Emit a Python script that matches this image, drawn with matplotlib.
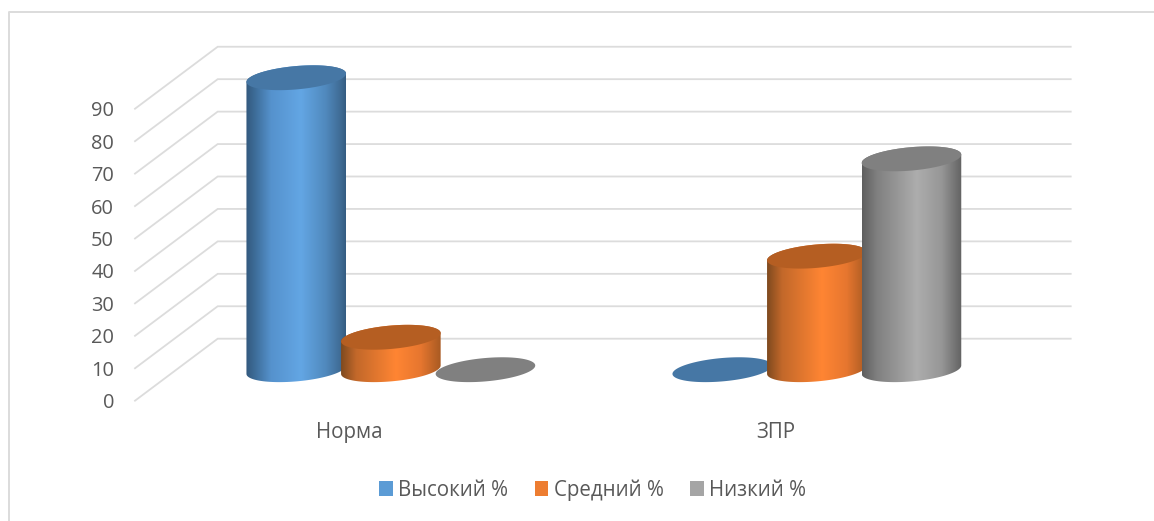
#!/usr/bin/env python
# -*- coding: utf-8 -*-

import matplotlib

matplotlib.use("Agg")

import matplotlib.pyplot as plt
import numpy as np

from matplotlib.colors import LinearSegmentedColormap
from matplotlib.lines import Line2D
from matplotlib.patches import Patch, Polygon

categories = ["Норма", "ЗПР"]
series_names = ["Высокий %", "Средний %", "Низкий %"]
vysokiy = [90, 0]
sredniy = [10, 35]
nizkiy = [0, 65]
y_ticks = [0, 10, 20, 30, 40, 50, 60, 70, 80, 90]

legend_colors = ["#5b9bd5", "#ed7d31", "#a5a5a5"]
top_colors = ["#4677a5", "#b55e22", "#808080"]
body_stops = [
    [(0, "#33597d"), (0.1, "#3f6f9c"), (0.25, "#5592cd"), (0.55, "#63a6e4"), (0.8, "#5089bd"), (0.95, "#3f6b94"), (1, "#355d82")],
    [(0, "#7f4a1f"), (0.15, "#c2682a"), (0.55, "#ff8533"), (0.8, "#e6762f"), (1, "#a85a22")],
    [(0, "#5f5f5f"), (0.15, "#808080"), (0.55, "#adadad"), (0.8, "#969696"), (1, "#626262")],
]

W, H = 1154, 521
TEXT = "#595959"
GRID = "#dcdcdc"

# pixel layout of the fake 3d box
AX_LEFT, AX_RIGHT = 135, 1070.7
AX_BOTTOM, AX_TOP = 400.7, 46
PX_PER_UNIT = 3.244
PX_PER_CAT = 426
CAT0_PX = 349.5
DEPTH_X, DEPTH_Y = 82.7, 62  # floor depth in px
BAR_STEP = 94.6  # px between cylinders
RX, RY, SHEAR = 49.8, 11.7, 4.2  # top ellipse in px

plt.rcParams["font.family"] = ["Open Sans", "DejaVu Sans"]

fig = plt.figure(figsize=(W / 100, H / 100), dpi=100, facecolor="white")
ax = fig.add_axes([AX_LEFT / W, 1 - AX_BOTTOM / H, (AX_RIGHT - AX_LEFT) / W, (AX_BOTTOM - AX_TOP) / H])
ax.set_xlim((AX_LEFT - CAT0_PX) / PX_PER_CAT, (AX_RIGHT - CAT0_PX) / PX_PER_CAT)
ax.set_ylim(0, (AX_BOTTOM - AX_TOP) / PX_PER_UNIT)
ax.patch.set_visible(False)
for side in ax.spines.values():
    side.set_visible(False)

dx = 1 / PX_PER_CAT
dy = 1 / PX_PER_UNIT
x0, x1 = ax.get_xlim()
back_x = x0 + DEPTH_X * dx
back_y = DEPTH_Y * dy

# walls
for v in y_ticks:
    ax.plot([x0, back_x, x1], [v, v + back_y, v + back_y], color=GRID, lw=1.3, zorder=1, solid_joinstyle="miter", clip_on=False)


def ellipse_xy(cx, cy, t):
    # sheared so the right end sits higher than the left
    return cx + RX * dx * np.cos(t), cy + (SHEAR * np.cos(t) + RY * np.sin(t)) * dy


# cylinders sit half way back on the floor
for s, values in enumerate([vysokiy, sredniy, nizkiy]):
    cmap = LinearSegmentedColormap.from_list("body%d" % s, body_stops[s])
    for c, value in enumerate(values):
        cx = c + (DEPTH_X / 2 + (s - 1) * BAR_STEP) * dx
        base = back_y / 2
        top = base + value
        z = 3 + c * 10 + s
        if value > 0:
            lx, ly = ellipse_xy(cx, base, np.linspace(np.pi, 2 * np.pi, 60))
            ux, uy = ellipse_xy(cx, top, np.linspace(0, np.pi, 60))
            verts = np.column_stack([np.r_[lx, ux], np.r_[ly, uy]])
            outline = Polygon(verts, closed=True, fc="none", ec="none", zorder=z)
            ax.add_patch(outline)
            grad = np.linspace(0, 1, 256).reshape(1, -1)
            im = ax.imshow(grad, cmap=cmap, aspect="auto", zorder=z, interpolation="bilinear",
                           extent=(cx - RX * dx, cx + RX * dx, base - RY * dy - 2, top + RY * dy + 2))
            im.set_clip_path(outline)
        tx, ty = ellipse_xy(cx, top, np.linspace(0, 2 * np.pi, 120))
        ax.add_patch(Polygon(np.column_stack([tx, ty]), closed=True, fc=top_colors[s], ec="none", zorder=z + 0.5))

ax.set_xlim(x0, x1)
ax.set_ylim(0, (AX_BOTTOM - AX_TOP) / PX_PER_UNIT)

ax.set_xticks(range(len(categories)))
ax.set_xticklabels(categories)
ax.set_yticks(y_ticks)
ax.tick_params(axis="y", length=0, pad=15, labelsize=14.4, labelcolor=TEXT)
ax.tick_params(axis="x", length=0, pad=15.5, labelsize=14.8, labelcolor=TEXT)

handles = [Patch(fc=col, ec="none", label=name) for col, name in zip(legend_colors, series_names)]
fig.legend(handles=handles, ncol=3, loc="center", bbox_to_anchor=(592.5 / W, 1 - 490 / H), frameon=False,
           fontsize=14.8, labelcolor=TEXT, handlelength=0.68, handleheight=0.68, handletextpad=0.25,
           columnspacing=1.3, borderpad=0, borderaxespad=0)

# chart frame, cut by the image on the right and bottom
fig.add_artist(Line2D([9 / W, 9 / W, 1], [0, 1 - 12 / H, 1 - 12 / H], color=GRID, lw=1.4))

fig.savefig("out.png", dpi=100)
